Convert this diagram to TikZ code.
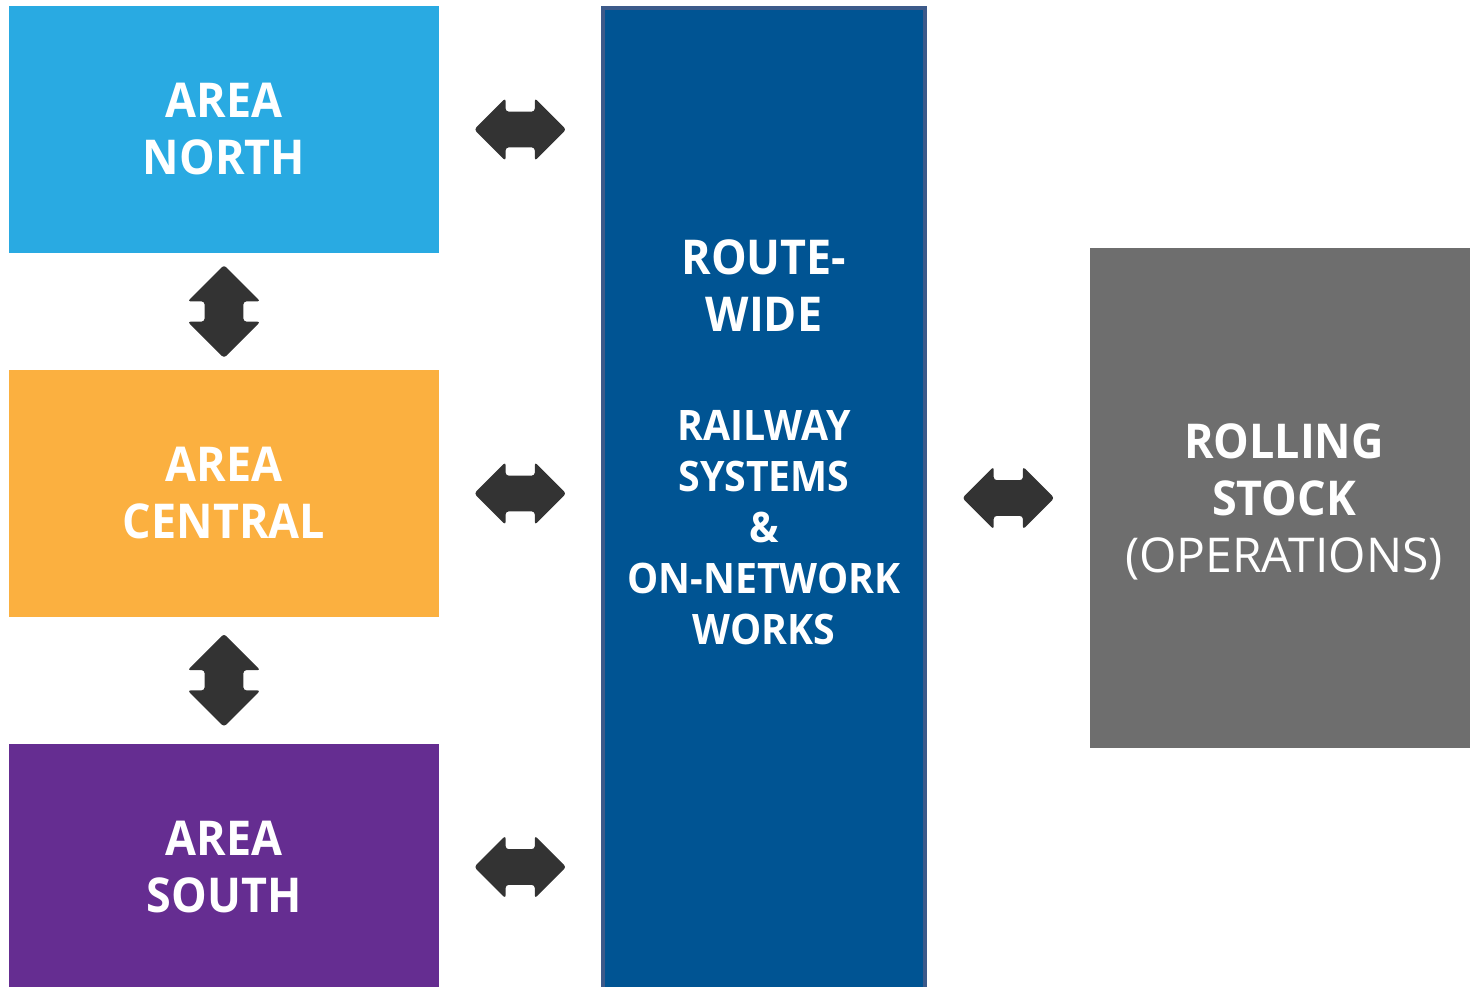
\documentclass[tikz,border=0pt]{standalone}
\usepackage{fontspec}
\setmainfont{Open Sans}[BoldFeatures={FakeStretch=0.935}]
\usetikzlibrary{shapes.arrows}

\definecolor{northblue}{RGB}{41,170,226}
\definecolor{centralorange}{RGB}{251,176,64}
\definecolor{southpurple}{RGB}{101,45,145}
\definecolor{routeblue}{RGB}{0,84,147}
\definecolor{routeedge}{RGB}{60,90,138}
\definecolor{stockgray}{RGB}{110,110,110}
\definecolor{linkdark}{RGB}{51,51,51}

\tikzset{
    area/.style={rectangle, inner sep=0pt, minimum width=215pt, minimum height=123.5pt,
        align=center, text=white, font=\bfseries\fontsize{24}{28.5}\selectfont},
    hlink/.style={double arrow, fill=linkdark, rounded corners=1.5pt, inner xsep=0pt,
        inner ysep=8.75pt, double arrow head extend=6.75pt, minimum height=46pt},
    vlink/.style={double arrow, fill=linkdark, rounded corners=1.5pt, inner xsep=0pt,
        inner ysep=9.5pt, double arrow head extend=8.5pt, minimum height=46.5pt, rotate=90}
}

\begin{document}
\begin{tikzpicture}[x=0.5pt, y=-0.5pt]
    \useasboundingbox (0,0) rectangle (1470,986);
    % the three areas on the left
    \node[area, fill=northblue] (north) at (224,129.5) {AREA\\NORTH};
    \node[area, fill=centralorange] (central) at (224,493.5) {AREA\\CENTRAL};
    \node[area, fill=southpurple] (south) at (224,867) {AREA\\SOUTH};
    % route-wide column, runs off the bottom
    \node[rectangle, fill=routeblue, draw=routeedge, line width=2pt, inner sep=0pt,
        minimum width=161pt, minimum height=500pt, anchor=north] (route) at (764,6) {};
    \node[align=center, text=white, font=\bfseries\fontsize{24}{28.5}\selectfont] (routetop) at (764,285.5)
        {ROUTE-\\WIDE};
    \node[align=center, text=white, font=\bfseries\fontsize{21}{25.5}\selectfont] (routebot) at (764,527.5)
        {RAILWAY\\SYSTEMS\\\&\\ON-NETWORK\\WORKS};
    % rolling stock, runs off the right edge
    \node[rectangle, fill=stockgray, inner sep=0pt, minimum width=194pt, minimum height=250pt,
        align=center, text=white, text depth=0pt, font=\fontsize{24}{28.5}\selectfont] (stock) at (1284,498)
        {\textbf{ROLLING}\\\textbf{STOCK}\\(OPERATIONS)};
    % links
    \path (north.east) -- (route.west |- north.east) node[midway, hlink] (ln) {};
    \path (central.east) -- (route.west |- central.east) node[midway, hlink] (lc) {};
    \path (south.east) -- (route.west |- south.east) node[midway, hlink] (ls) {};
    \path (route.east |- stock.west) -- (stock.west) node[midway, hlink] (lr) {};
    \path (north.south) -- (central.north) node[midway, vlink] (lnc) {};
    \path (central.south) -- (south.north) node[midway, vlink] (lcs) {};
\end{tikzpicture}
\end{document}
